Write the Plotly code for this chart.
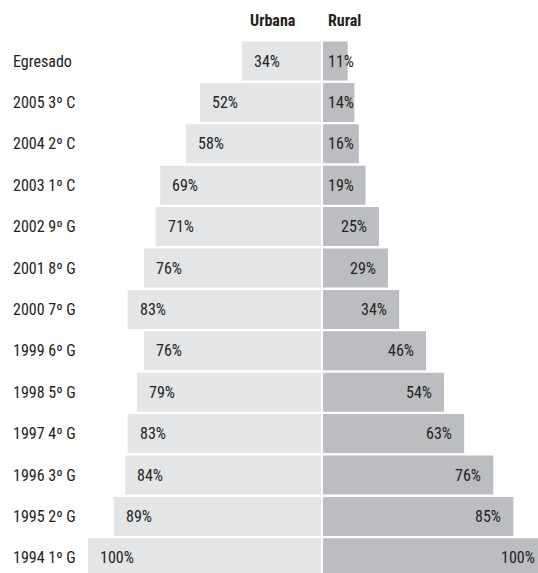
import plotly.graph_objects as go

categories = ["Egresado", "2005 3º C", "2004 2º C", "2003 1º C", "2002 9º G", "2001 8º G",
              "2000 7º G", "1999 6º G", "1998 5º G", "1997 4º G", "1996 3º G", "1995 2º G",
              "1994 1º G"]
urbana = [34, 52, 58, 69, 71, 76, 83, 76, 79, 83, 84, 89, 100]
rural = [11, 14, 16, 19, 25, 29, 34, 46, 54, 63, 76, 85, 100]

W, H = 538, 573
FONT = "Liberation Sans Narrow, Arial Narrow, Roboto Condensed, sans-serif"
TXT = "#222222"

# pixel layout of the two halves
center_l, center_r = 321, 323
px_l, px_r = 2.33, 2.24          # px per percent point
range_l = center_l / px_l
range_r = (W - center_r) / px_r
pad_l, pad_r = 10 / px_l, 10 / px_r

fig = go.Figure()
fig.add_trace(go.Bar(y=categories, x=urbana, orientation="h", xaxis="x", yaxis="y",
                     marker=dict(color="#e4e5e7", line=dict(width=0)), hoverinfo="x+y"))
fig.add_trace(go.Bar(y=categories, x=rural, orientation="h", xaxis="x2", yaxis="y",
                     marker=dict(color="#bcbdc1", line=dict(width=0)), hoverinfo="x+y"))

annotations = []
for cat, u, r in zip(categories, urbana, rural):
    annotations.append(dict(x=0, xref="paper", xshift=11, xanchor="left", y=cat, yref="y",
                            text=cat, showarrow=False, font=dict(size=16, color=TXT)))
    annotations.append(dict(x=u - pad_l, xref="x", xanchor="left", y=cat, yref="y",
                            text=f"{u}%", showarrow=False, font=dict(size=16, color=TXT)))
    # keep right labels readable on short bars and inside the visible area
    rx = min(max(r, 19) - pad_r, range_r - 0.4)
    annotations.append(dict(x=rx, xref="x2", xanchor="right", y=cat, yref="y",
                            text=f"{r}%", showarrow=False, font=dict(size=16, color=TXT)))

# column headers
annotations.append(dict(x=298 / W, xref="paper", xanchor="right", y=1 - 21 / H, yref="paper",
                        yanchor="middle", text="<b>Urbana</b>",
                        showarrow=False, font=dict(size=16, color=TXT)))
annotations.append(dict(x=326 / W, xref="paper", xanchor="left", y=1 - 21 / H, yref="paper",
                        yanchor="middle", text="<b>Rural</b>",
                        showarrow=False, font=dict(size=16, color=TXT)))

n0 = -61 / 41.4
n1 = (H - 61) / 41.4

fig.update_layout(
    width=W, height=H,
    margin=dict(l=0, r=0, t=0, b=0),
    paper_bgcolor="white", plot_bgcolor="white",
    font=dict(family=FONT, size=16, color=TXT),
    showlegend=False,
    bargap=0.058,
    xaxis=dict(domain=[0, center_l / W], range=[range_l, 0], visible=False, fixedrange=True),
    xaxis2=dict(domain=[center_r / W, 1], range=[0, range_r], anchor="y", visible=False,
                fixedrange=True),
    yaxis=dict(type="category", categoryorder="array", categoryarray=categories,
               range=[n1, n0], anchor="x", visible=False, fixedrange=True),
    annotations=annotations,
)

fig.write_html("out.html", config={"displayModeBar": False},
               post_script="document.body.style.margin='0px';")
